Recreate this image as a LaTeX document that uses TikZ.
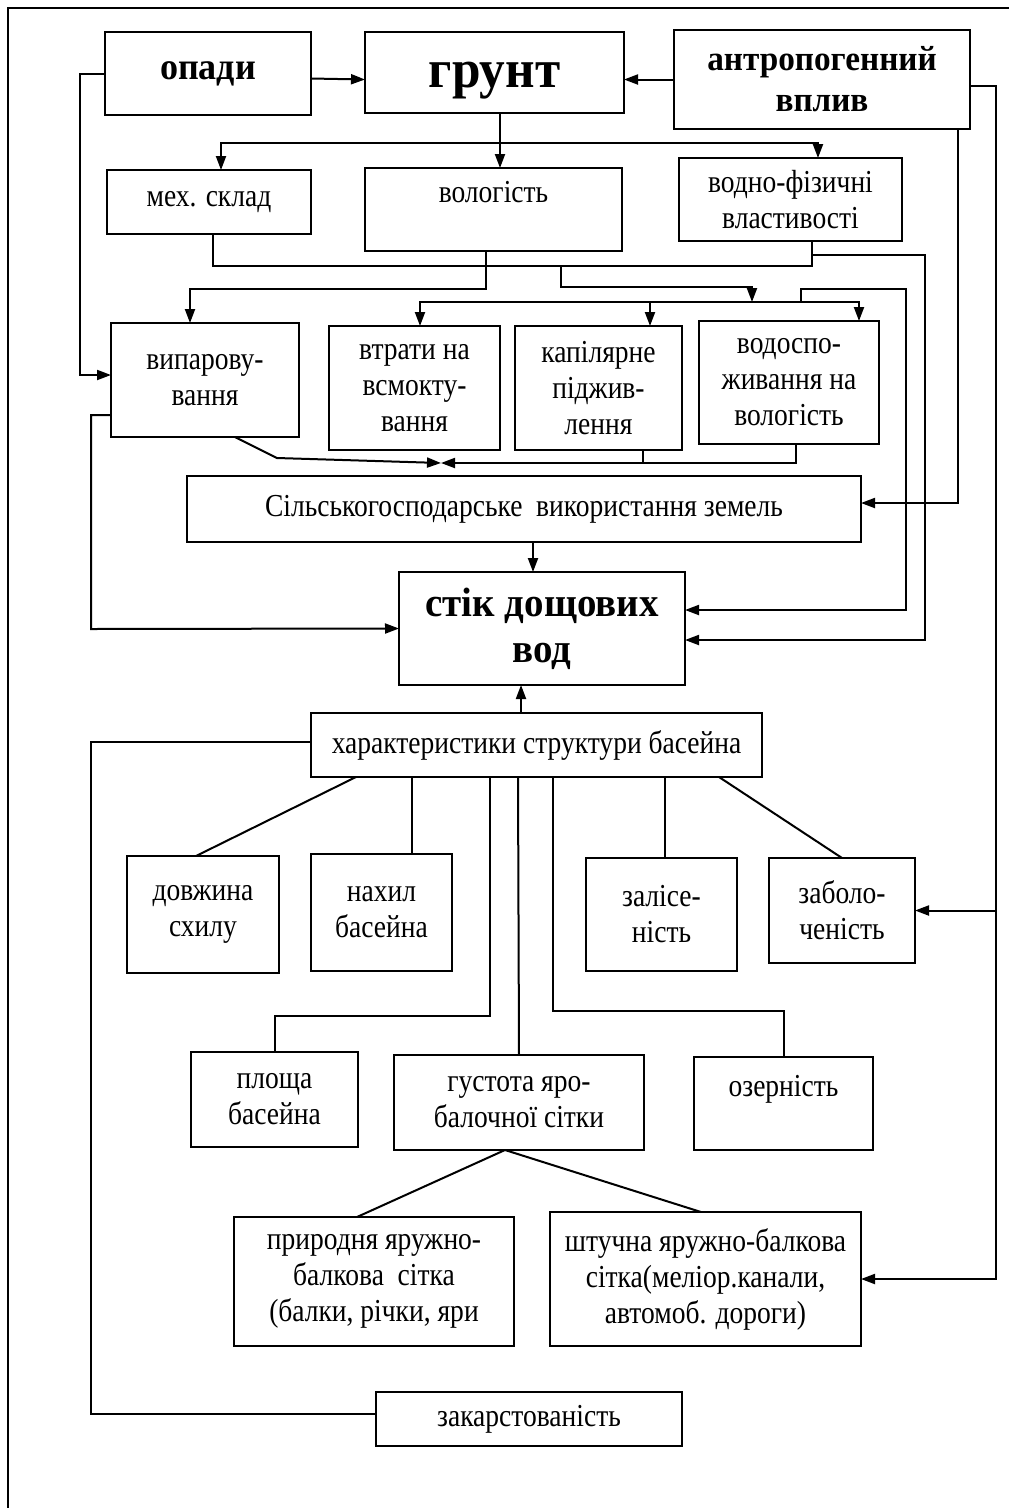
\documentclass[tikz,border=0pt]{standalone}
\usepackage{fontspec}
\setmainfont{Liberation Serif}[FakeStretch=0.86]
\newfontfamily\headfont{Liberation Serif}[FakeStretch=0.95]
\usetikzlibrary{arrows.meta}
\begin{document}
\begin{tikzpicture}[x=1pt, y=-1pt, line width=2pt, >={Triangle[length=14pt,width=10pt]},
		box/.style = {draw, align=center, inner sep=2pt, outer sep=0pt, font=\fontsize{32}{36}\selectfont},
		head/.style = {box, font=\headfont\bfseries\fontsize{38}{43}\selectfont}]
		\useasboundingbox (0,0) rectangle (1009,1508);
		\draw[-] (1009,8) -- (8,8) -- (8,1508);
		\node[head, minimum width=206pt, minimum height=83pt] (opady) at (208,73.5) {опади};
		\node[head, minimum width=259pt, minimum height=81pt, font=\headfont\bfseries\fontsize{54}{60}\selectfont] (grunt) at (494.5,72.5) {\raisebox{-15pt}[0pt][0pt]{грунт}};
		\node[head, minimum width=296pt, minimum height=99pt, font=\headfont\bfseries\fontsize{35}{41}\selectfont] (antrop) at (822,79.5) {антропогенний\\вплив};
		\node[box, minimum width=204pt, minimum height=64pt] (mekh) at (209,202) {мех. склад};
		\node[box, minimum width=257pt, minimum height=83pt] (volog) at (493.5,209.5) {вологість\\\mbox{}};
		\node[box, minimum width=223pt, minimum height=83pt] (vodfiz) at (790.5,199.5) {водно-фізичні\\властивості};
		\node[box, minimum width=188pt, minimum height=114pt] (vyp) at (205,380) {випарову-\\вання};
		\node[box, minimum width=171pt, minimum height=124pt] (vtraty) at (414.5,388) {втрати на\\всмокту-\\вання};
		\node[box, minimum width=167pt, minimum height=124pt] (kapil) at (598.5,388) {капілярне\\піджив-\\лення};
		\node[box, minimum width=180pt, minimum height=123pt] (vodosp) at (789,382.5) {водоспо-\\живання на\\вологість};
		\node[box, minimum width=674pt, minimum height=66pt] (silgosp) at (524,509) {Сільськогосподарське\ \ використання земель};
		\node[head, minimum width=286pt, minimum height=113pt, font=\headfont\bfseries\fontsize{41}{46}\selectfont] (stik) at (542,628.5) {стік дощових\\вод};
		\node[box, minimum width=451pt, minimum height=64pt] (kharakt) at (536.5,745) {характеристики структури басейна};
		\node[box, minimum width=152pt, minimum height=117pt] (dovzh) at (203,914.5) {довжина\\схилу};
		\node[box, minimum width=141pt, minimum height=117pt] (nakhyl) at (381.5,912.5) {нахил\\басейна};
		\node[box, minimum width=151pt, minimum height=113pt] (zalis) at (661.5,914.5) {залісе-\\ність};
		\node[box, minimum width=146pt, minimum height=105pt] (zabol) at (842,910.5) {заболо-\\ченість};
		\node[box, minimum width=167pt, minimum height=95pt] (ploshcha) at (274.5,1099.5) {площа\\басейна};
		\node[box, minimum width=250pt, minimum height=95pt] (gustota) at (519,1102.5) {густота яро-\\балочної сітки};
		\node[box, minimum width=179pt, minimum height=93pt] (ozern) at (783.5,1103.5) {озерність\\\mbox{}};
		\node[box, minimum width=280pt, minimum height=129pt] (pryrod) at (374,1281.5) {природня яружно-\\балкова\ \ сітка\\(балки, річки, яри};
		\node[box, minimum width=311pt, minimum height=134pt] (shtuchna) at (705.5,1279) {штучна яружно-балкова\\сітка(меліор.канали,\\автомоб. дороги)};
		\node[box, minimum width=306pt, minimum height=54pt] (zakarst) at (529,1419) {закарстованість};
		\coordinate (g1) at (500,143);
		\coordinate (f1) at ([xshift=21.5pt]vodfiz.south);
		\coordinate (j1) at (812,266);
		\coordinate (j2) at (561,266);
		\coordinate (d1) at (752,302);
		\coordinate (meet) at (441,463);
		\draw[->] ([yshift=-5pt]opady.east) -- ([yshift=-7pt]grunt.west);
		\draw[->] (antrop.west) -- ([yshift=-7pt]grunt.east);
		\draw[->] ([xshift=5.5pt]grunt.south) -- ([xshift=6.5pt]volog.north);
		\draw[->] (g1) -| ([xshift=12pt]mekh.north);
		\draw[->] (g1) -| ([xshift=27.5pt]vodfiz.north);
		\draw[-] ([xshift=4pt]mekh.south) |- (j1) -- (f1);
		\draw[->] ([xshift=-7.5pt]volog.south) -- ++(0,38) -| ([xshift=-15pt]vyp.north);
		\draw[->] (j2) |- (752,287) -- (d1);
		\draw[->] (d1) -| ([xshift=5.5pt]vtraty.north);
		\draw[->] (d1) -| ([xshift=51.5pt]kapil.north);
		\draw[->] (d1) -| ([xshift=70pt]vodosp.north);
		\draw[->] (801,302) |- (906,289) |- ([yshift=18.5pt]stik.east);
		\draw[->] ([yshift=-14pt]f1) -| (925,640) -- ([yshift=-11.5pt]stik.east);
		\draw[->] ([xshift=136pt]antrop.south) |- ([yshift=6pt]silgosp.east);
		\draw[->] ([yshift=-6.5pt]antrop.east) -| (996,910.5) -- (zabol.east);
		\draw[->] (996,910.5) |- (shtuchna.east);
		\draw[->] (opady.west) -- (80,73.5) |- ([yshift=5pt]vyp.west);
		\draw[->] ([yshift=-35pt]vyp.west) -| (91,629) -- (stik.west);
		\draw[->] ([xshift=30pt]vyp.south) -- (277,458) -- (meet);
		\draw[->] ([xshift=7pt]vodosp.south) |- (meet);
		\draw[-] ([xshift=44.5pt]kapil.south) -- ++(0,13);
		\draw[->] ([xshift=9pt]silgosp.south) -- ([xshift=-9pt]stik.north);
		\draw[->] ([xshift=-15.5pt]kharakt.north) -- ([xshift=-21pt]stik.south);
		\draw[-] ([yshift=3pt]kharakt.west) -| (91,1414) -- ([yshift=5pt]zakarst.west);
		\draw[-] ([xshift=-180.5pt]kharakt.south) -- ([xshift=-7pt]dovzh.north);
		\draw[-] ([xshift=-124.5pt]kharakt.south) -- ([xshift=30.5pt]nakhyl.north);
		\draw[-] ([xshift=-46.5pt]kharakt.south) -- ++(0,239) -| (ploshcha.north);
		\draw[-] ([xshift=-18.5pt]kharakt.south) -- (gustota.north);
		\draw[-] ([xshift=16.5pt]kharakt.south) -- ++(0,234) -| (ozern.north);
		\draw[-] ([xshift=128.5pt]kharakt.south) -- ([xshift=3.5pt]zalis.north);
		\draw[-] ([xshift=182.5pt]kharakt.south) -- (zabol.north);
		\draw[-] ([xshift=-14pt]gustota.south) -- ([xshift=-17pt]pryrod.north);
		\draw[-] ([xshift=-14pt]gustota.south) -- ([xshift=-4.5pt]shtuchna.north);
	\end{tikzpicture}
\end{document}
